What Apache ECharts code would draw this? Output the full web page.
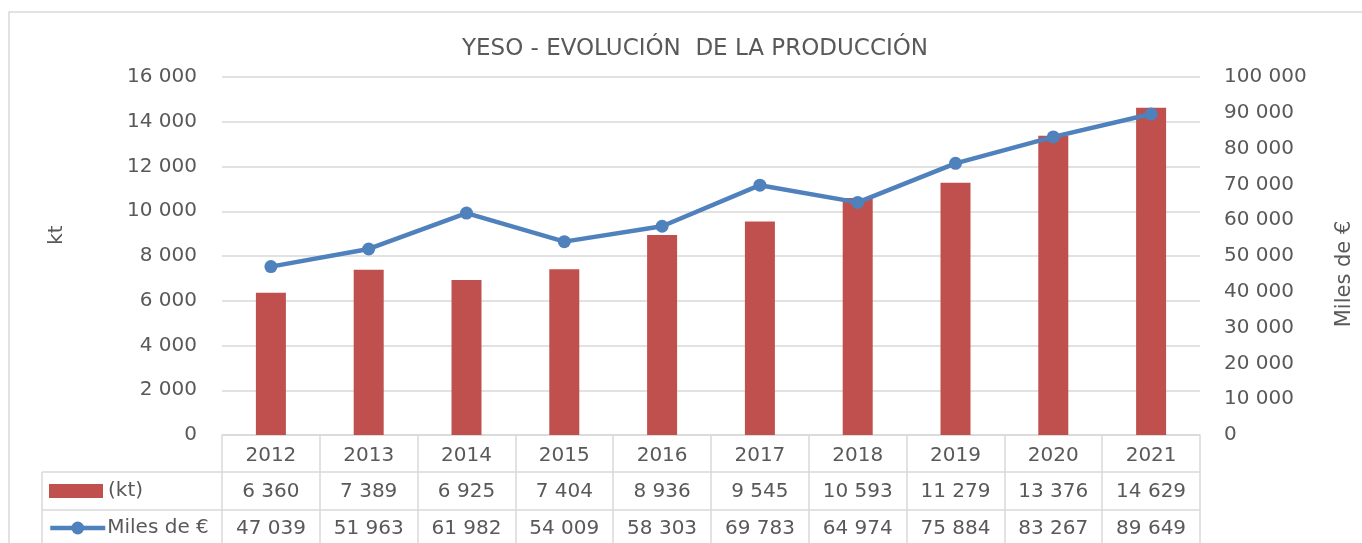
<!DOCTYPE html>
<html>
<head>
<meta charset="utf-8">
<script src="https://cdn.jsdelivr.net/npm/echarts@6/dist/echarts.min.js"></script>
<style>
  html, body { margin: 0; padding: 0; background: #fff; }
  #main { width: 1362px; height: 543px; }
</style>
</head>
<body>
<div id="main"></div>
<script>
  var years = ['2012', '2013', '2014', '2015', '2016', '2017', '2018', '2019', '2020', '2021'];
  var ktValues = [6360, 7389, 6925, 7404, 8936, 9545, 10593, 11279, 13376, 14629];
  var milesValues = [47039, 51963, 61982, 54009, 58303, 69783, 64974, 75884, 83267, 89649];

  var gray = '#595959';
  var lineGray = '#D9D9D9';
  var font = 'DejaVu Sans';

  function fmt(v) {
    return String(v).replace(/\B(?=(\d{3})+(?!\d))/g, ' ');
  }

  var myChart = echarts.init(document.getElementById('main'));
  myChart.setOption({
    animation: false,
    textStyle: { fontFamily: font },
    title: {
      text: 'YESO - EVOLUCIÓN  DE LA PRODUCCIÓN',
      left: 690,
      textAlign: 'center',
      top: 33,
      textStyle: { color: gray, fontSize: 23, fontWeight: 'normal', fontFamily: font }
    },
    legend: [
      {
        data: ['(kt)'],
        left: 49, top: 481, padding: 0,
        icon: 'rect',
        itemWidth: 54, itemHeight: 14, itemGap: 4,
        textStyle: { color: gray, fontSize: 20, fontFamily: font }
      },
      {
        data: ['Miles de €'],
        left: 48, top: 518, padding: 0,
        itemWidth: 55, itemHeight: 16, itemGap: 2,
        lineStyle: { width: 4.5 },
        textStyle: { color: gray, fontSize: 20, fontFamily: font, padding: [0, 0, 0, -3] }
      }
    ],
    grid: { left: 222, right: 162, top: 77, bottom: 108, outerBoundsMode: 'none' },
    xAxis: [
      {
        type: 'category',
        data: years,
        position: 'bottom',
        axisLine: { show: true, lineStyle: { color: lineGray, width: 1.5 } },
        axisTick: { show: true, interval: 0, length: 112, lineStyle: { color: lineGray, width: 1.5 } },
        axisLabel: { color: gray, fontSize: 20, margin: 11, interval: 0 }
      },
      {
        type: 'category',
        data: years,
        position: 'bottom',
        offset: 36,
        axisLine: { show: false },
        axisTick: { show: false },
        axisLabel: {
          color: gray, fontSize: 20, margin: 11, interval: 0,
          formatter: function (v, i) { return fmt(ktValues[i]); }
        }
      },
      {
        type: 'category',
        data: years,
        position: 'bottom',
        offset: 73,
        axisLine: { show: false },
        axisTick: { show: false },
        axisLabel: {
          color: gray, fontSize: 20, margin: 11, interval: 0,
          formatter: function (v, i) { return fmt(milesValues[i]); }
        }
      }
    ],
    yAxis: [
      {
        type: 'value',
        min: 0, max: 16000, interval: 2000,
        name: 'kt',
        nameLocation: 'middle',
        nameRotate: 90,
        nameGap: 155,
        nameTextStyle: { color: gray, fontSize: 20, padding: [0, 0, 0, 42] },
        axisLine: { show: false },
        axisTick: { show: false },
        axisLabel: { color: gray, fontSize: 20, margin: 25, formatter: fmt },
        splitLine: { lineStyle: { color: lineGray, width: 1.5 } }
      },
      {
        type: 'value',
        min: 0, max: 100000, interval: 10000,
        position: 'right',
        name: 'Miles de €',
        nameLocation: 'middle',
        nameRotate: 90,
        nameGap: 134,
        nameTextStyle: { color: gray, fontSize: 21, padding: [0, 36, 0, 0] },
        axisLine: { show: false },
        axisTick: { show: false },
        axisLabel: { color: gray, fontSize: 20, margin: 24, formatter: fmt },
        splitLine: { show: false }
      }
    ],
    series: [
      {
        name: '(kt)',
        type: 'bar',
        xAxisIndex: 0,
        yAxisIndex: 0,
        barWidth: 30,
        data: ktValues,
        itemStyle: { color: '#C0504D' }
      },
      {
        name: 'Miles de €',
        type: 'line',
        xAxisIndex: 0,
        yAxisIndex: 1,
        data: milesValues,
        symbol: 'circle',
        symbolSize: 13,
        z: 5,
        lineStyle: { color: '#4F81BD', width: 4.5 },
        itemStyle: { color: '#4F81BD' }
      }
    ],
    graphic: [
      // marco exterior del gráfico
      { type: 'rect', shape: { x: 9, y: 12, width: 1370, height: 560 }, style: { fill: 'none', stroke: lineGray, lineWidth: 1.5 } },
      // líneas de la tabla de datos
      { type: 'line', shape: { x1: 42, y1: 472, x2: 1200, y2: 472 }, style: { stroke: lineGray, lineWidth: 1.5 } },
      { type: 'line', shape: { x1: 42, y1: 510, x2: 1200, y2: 510 }, style: { stroke: lineGray, lineWidth: 1.5 } },
      { type: 'line', shape: { x1: 42, y1: 472, x2: 42, y2: 560 }, style: { stroke: lineGray, lineWidth: 1.5 } }
    ]
  });

  window.addEventListener('resize', function () {
    myChart.resize();
  });
</script>
</body>
</html>
